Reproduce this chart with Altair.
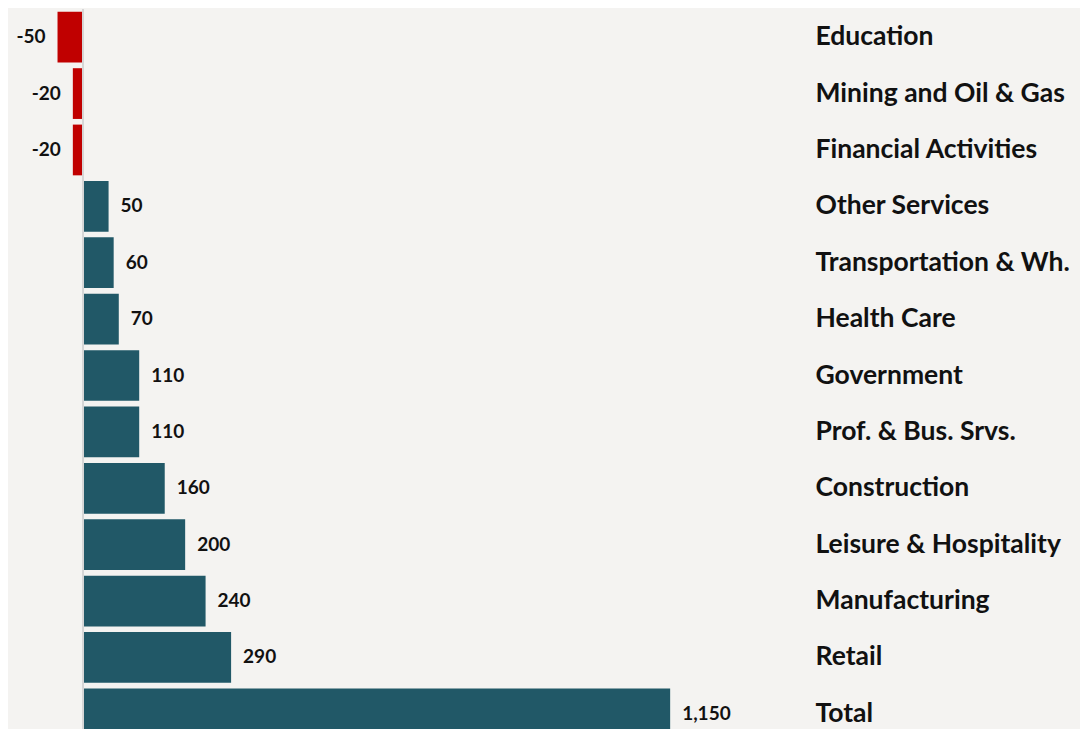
import altair as alt
import pandas as pd

categories = ["Education", "Mining and Oil & Gas", "Financial Activities", "Other Services",
              "Transportation & Wh.", "Health Care", "Government", "Prof. & Bus. Srvs.",
              "Construction", "Leisure & Hospitality", "Manufacturing", "Retail", "Total"]
values = [-50, -20, -20, 50, 60, 70, 110, 110, 160, 200, 240, 290, 1150]

df = pd.DataFrame({
    "category": categories,
    "value": values,
    "pos_label": [f"{v:,}" if v >= 0 else "" for v in values],
    "neg_label": [f"{v:,}" if v < 0 else "" for v in values],
    "sign": ["neg" if v < 0 else "pos" for v in values],
    "zero": [0] * len(values),
})

BG = "#f4f3f1"
TEAL = "#215867"
RED = "#c00000"
FONT = "Lato"

y_axis = alt.Axis(orient="right", title=None, domain=False, ticks=False,
                  labelAlign="left", labelPadding=7, labelFont=FONT,
                  labelFontWeight="bold", labelFontSize=26.5, labelColor="#111111",
                  labelLimit=400)

base = alt.Chart(df)

bars = base.mark_bar().encode(
    x=alt.X("value:Q", scale=alt.Scale(domain=[-147, 1420], nice=False, zero=False), axis=None),
    y=alt.Y("category:N", sort=categories,
            scale=alt.Scale(paddingInner=0.1, paddingOuter=0.05), axis=y_axis),
    color=alt.Color("sign:N", scale=alt.Scale(domain=["neg", "pos"], range=[RED, TEAL]), legend=None),
)

zero_rule = base.mark_rule(color="#d6d6d6", strokeWidth=1.5).encode(
    x=alt.X("zero:Q", axis=None),
)

pos_text = base.mark_text(
    align="left", baseline="middle", dx=12, font=FONT, fontWeight="bold", fontSize=19, color="#111111"
).encode(x=alt.X("value:Q", axis=None), y=alt.Y("category:N", sort=categories, axis=y_axis),
         text="pos_label:N")

neg_text = base.mark_text(
    align="right", baseline="middle", dx=-12, font=FONT, fontWeight="bold", fontSize=19, color="#111111"
).encode(x=alt.X("value:Q", axis=None), y=alt.Y("category:N", sort=categories, axis=y_axis),
         text="neg_label:N")

chart = alt.layer(bars, zero_rule, pos_text, neg_text).properties(
    width=800, height=733, background=BG,
    padding={"left": 0, "top": 0, "right": 10, "bottom": 0}
).configure_view(strokeWidth=0)

chart.save("out.html", embed_options={"renderer": "svg", "actions": False})
